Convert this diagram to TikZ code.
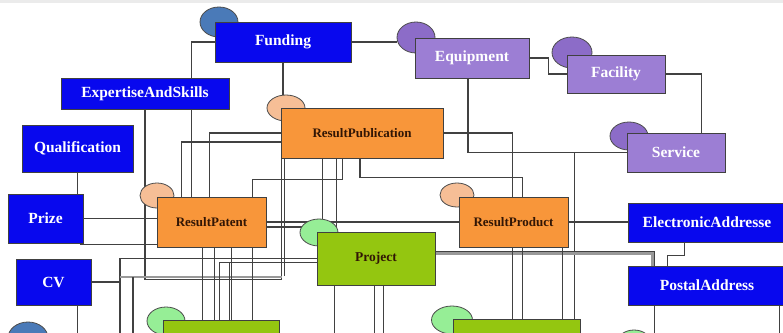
\documentclass[tikz,border=0pt]{standalone}
\usepackage{fontspec}
\setmainfont{Liberation Serif}
\usetikzlibrary{calc,shapes.geometric}
\definecolor{bxblue}{RGB}{8,8,238}
\definecolor{elblue}{RGB}{74,122,184}
\definecolor{bxorange}{RGB}{248,150,58}
\definecolor{elpeach}{RGB}{246,190,150}
\definecolor{bxpurple}{RGB}{156,126,212}
\definecolor{elpurple}{RGB}{140,108,200}
\definecolor{bxgreen}{RGB}{148,198,16}
\definecolor{elgreen}{RGB}{150,238,150}
\definecolor{wirec}{RGB}{65,65,65}
\definecolor{txtdark}{RGB}{50,22,5}
\pgfdeclarelayer{bg}
\pgfdeclarelayer{mid}
\pgfsetlayers{bg,mid,main}
\begin{document}
\begin{tikzpicture}[x=1pt,y=-1pt,
 box/.style={draw=black!75,line width=0.9pt,inner sep=0pt,font=\bfseries\fontsize{15.5}{17}\selectfont},
 bbox/.style={box,fill=bxblue,text=white},
 pbox/.style={box,fill=bxpurple,text=white},
 obox/.style={box,fill=bxorange,text=txtdark,font=\bfseries\fontsize{13}{15}\selectfont},
 gbox/.style={box,fill=bxgreen,text=txtdark,font=\bfseries\fontsize{13.5}{15}\selectfont},
 ell/.style={ellipse,draw=black!70,line width=0.8pt,inner sep=0pt},
 wire/.style={draw=wirec,line width=1.4pt},
 gwire/.style={draw=black!40,line width=2.8pt}]
\useasboundingbox (0,0) rectangle (783,332);
\clip (0,0) rectangle (783,332);

% boxes
\node[bbox,minimum width=136pt,minimum height=40pt] (fund) at (283,42) {Funding};
\node[bbox,minimum width=168pt,minimum height=31pt] (exp) at (145,93.5) {ExpertiseAndSkills};
\node[bbox,minimum width=111pt,minimum height=47pt] (qual) at (77.5,148.5) {Qualification};
\node[bbox,minimum width=75pt,minimum height=49pt] (prize) at (45.5,218.5) {Prize};
\node[bbox,minimum width=75pt,minimum height=46pt] (cv) at (53.5,282) {CV};
\node[obox,minimum width=162pt,minimum height=50pt] (pub) at (362,133) {ResultPublication};
\node[pbox,minimum width=114pt,minimum height=40pt] (equip) at (472,58) {Equipment};
\node[pbox,minimum width=98pt,minimum height=38pt] (fac) at (616,74) {Facility};
\node[pbox,minimum width=98pt,minimum height=39pt] (serv) at (676,152.5) {Service};
\node[obox,minimum width=109pt,minimum height=50pt] (pat) at (211.5,222) {ResultPatent};
\node[gbox,minimum width=118pt,minimum height=53pt] (proj) at (376,258.5) {Project};
\node[obox,minimum width=109pt,minimum height=50pt] (prod) at (513.5,222) {ResultProduct};
\node[bbox,minimum width=158pt,minimum height=39pt] (eaddr) at (707,222.5) {ElectronicAddresse};
\node[bbox,minimum width=158pt,minimum height=39pt] (paddr) at (707,285.5) {PostalAddress};
\node[gbox,minimum width=116pt,minimum height=40pt] (g1) at (221,340) {};
\node[gbox,minimum width=127pt,minimum height=40pt] (g2) at (516.5,339) {};

% ellipses
\begin{pgfonlayer}{mid}
\node[ell,fill=elblue,minimum width=38pt,minimum height=30pt] (efund) at (219,22) {};
\node[ell,fill=elpeach,minimum width=38pt,minimum height=26pt] (epub) at (286,108) {};
\node[ell,fill=elpurple,minimum width=38pt,minimum height=31pt] (eeq) at (416,37.5) {};
\node[ell,fill=elpurple,minimum width=40pt,minimum height=31pt] (efac) at (572,52.5) {};
\node[ell,fill=elpurple,minimum width=38pt,minimum height=28pt] (eserv) at (629,136) {};
\node[ell,fill=elpeach,minimum width=34pt,minimum height=25pt] (epat) at (157,195.5) {};
\node[ell,fill=elgreen,minimum width=38pt,minimum height=27pt] (eproj) at (319,232.5) {};
\node[ell,fill=elpeach,minimum width=34pt,minimum height=24pt] (eprod) at (457,195) {};
\node[ell,fill=elgreen,minimum width=38pt,minimum height=28pt] (eg1) at (166,321) {};
\node[ell,fill=elgreen,minimum width=41pt,minimum height=28pt] (eg2) at (452,320) {};
\node[ell,fill=elblue,minimum width=40pt,minimum height=32pt] (ecv) at (28,338) {};
\node[ell,fill=elgreen,minimum width=34pt,minimum height=26pt] (ex) at (634,343) {};
\end{pgfonlayer}

% connectors
\begin{pgfonlayer}{bg}
\fill[white] (0,0) rectangle (783,332);
\fill[black!8] (0,0) rectangle (783,3);
\draw[wire] (fund.west) -| ([xshift=35pt]pat.north west);
\draw[wire] (fund.south) -- (fund.south |- pub.north);
\draw[wire] (fund.east) -- (fund.east -| eeq.west);
\draw[wire] (equip.east) -- ++(19,0) |- (fac.west);
\draw[wire] (fac.east) -| ([xshift=75pt]serv.north west);
\draw[wire] ([xshift=-4pt]equip.south) |- (serv.west);
\draw[wire] ([xshift=122pt]g2.north west) -- ([xshift=122pt]g2.north west |- serv.west);
\draw[wire] (pub.east) -| ([xshift=54pt]prod.north west);
\draw[wire] ([xshift=-2pt]pub.south) -- ++(0,19) -| ([xshift=64pt]prod.north west);
\draw[wire] ([xshift=96pt]pat.north west) -- ++(0,-17) -| ([xshift=62pt]pub.south west);
\draw[wire] ([xshift=53pt]pat.north west) |- (pub.west);
\draw[wire] ([xshift=25pt]pat.north west) |- ([yshift=-9pt]pub.west);
\draw[wire] (exp.south) -- ++(0,170) -| ([xshift=1pt]pub.south west);
\draw[wire] ([xshift=4pt]pub.south west) -- ++(0,118);
\draw[wire] (qual.south) -- (qual.south |- prize.north);
\draw[wire] (prize.east) -- (prize.east -| pat.west);
\draw[wire] ([xshift=-3pt,yshift=-1pt]prize.south east) -- ([yshift=-1pt]prize.south east -| pat.west);
\draw[wire] (proj.west) -| (120,340);
\draw[wire] (cv.east) -- ++(29,0);
\draw[gwire] (120,277) -- (282,277);
\draw[wire] (133,277) -- (133,340);
\draw[wire] ([xshift=57pt]g1.north west) |- ([yshift=-4pt]proj.west);
\draw[wire] ([xshift=67pt]g1.north west) -- ++(0,-58);
\foreach \s in {46,58,75,96}
  \draw[wire] ([xshift=\s pt]pat.south west) -- ([xshift=\s pt]pat.south west |- g1.north);
\draw[wire] (pat.east) -- (prod.west);
\draw[wire] ([yshift=-5pt]pat.east) -- ++(40,0);
\draw[gwire] ([yshift=5pt]proj.east) -| ([xshift=25pt]paddr.north west);
\draw[wire] ([yshift=7pt]proj.east) -| ([xshift=27pt]paddr.north west);
\draw[wire] ([xshift=57pt]eaddr.south west) -- ++(0,13) -| ([xshift=40pt]paddr.north west);
\draw[wire] (prod.east) -- (prod.east -| eaddr.west);
\foreach \s in {54,64,104}
  \draw[wire] ([xshift=\s pt]prod.south west) -- ([xshift=\s pt]prod.south west |- g2.north);
\foreach \s in {18,58,67}
  \draw[wire] ([xshift=\s pt]proj.south west) -- ++(0,60);
\foreach \s in {27,152}
  \draw[wire] ([xshift=\s pt]paddr.south west) -- ++(0,40);
\draw[wire] ([xshift=62pt]cv.south west) -- ++(0,40);
\foreach \s in {42,56}
  \draw[wire] ([xshift=\s pt]pub.south west) -- ([xshift=\s pt]pub.south west |- proj.north);
\end{pgfonlayer}
\end{tikzpicture}
\end{document}
